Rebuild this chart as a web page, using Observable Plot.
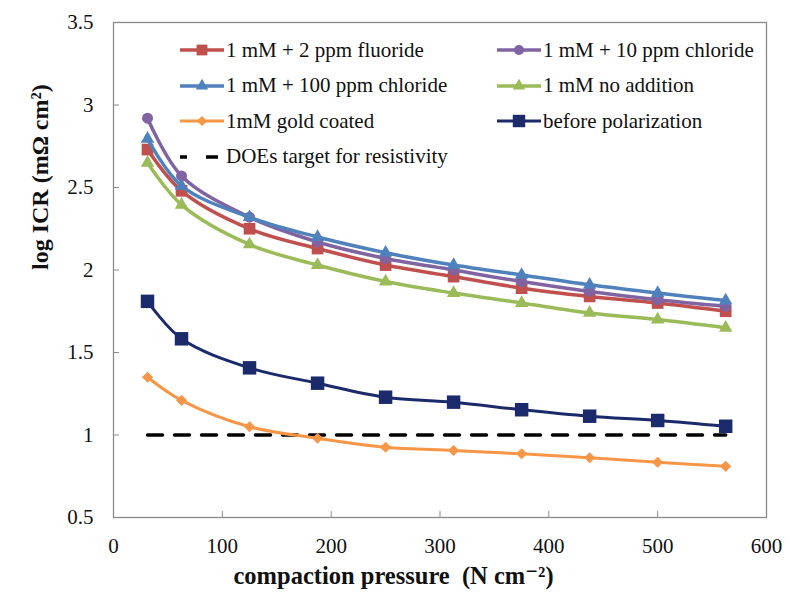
<!DOCTYPE html>
<html><head><meta charset="utf-8">
<script src="https://cdn.jsdelivr.net/npm/d3@7"></script>
<script src="https://cdn.jsdelivr.net/npm/@observablehq/plot@0.6"></script>
<style>
body{margin:0;background:#fff;}
#wrap{position:relative;width:790px;height:597px;font-family:"Liberation Serif","DejaVu Serif",serif;}
#wrap svg text{font-family:"Liberation Serif","DejaVu Serif",serif;}
.leg{position:absolute;display:flex;align-items:center;font-size:21px;color:#111;white-space:nowrap;height:26px;transform:translateY(-50%);font-family:"Liberation Serif","DejaVu Serif",serif;}
.leg svg{margin-right:2px;overflow:visible;}
</style></head><body><div id="wrap"></div>
<script>
// ---- data ----
const pressure = [31.25, 62.5, 125, 187.5, 250, 312.5, 375, 437.5, 500, 562.5];
const fluoride2ppm   = [2.73, 2.48, 2.25, 2.13, 2.03, 1.96, 1.89, 1.84, 1.80, 1.75];
const chloride10ppm  = [2.92, 2.57, 2.32, 2.17, 2.07, 2.00, 1.93, 1.87, 1.82, 1.78];
const chloride100ppm = [2.795, 2.51, 2.32, 2.20, 2.105, 2.03, 1.97, 1.91, 1.86, 1.815];
const noAddition     = [2.65, 2.395, 2.155, 2.03, 1.93, 1.86, 1.80, 1.74, 1.70, 1.65];
const goldCoated     = [1.35, 1.21, 1.05, 0.98, 0.926, 0.906, 0.886, 0.862, 0.835, 0.81];
const beforePolarization = [1.81, 1.583, 1.407, 1.314, 1.229, 1.199, 1.153, 1.114, 1.088, 1.053];
const doeTarget      = [1, 1, 1, 1, 1, 1, 1, 1, 1, 1];

const seriesNames = ["1 mM + 2 ppm fluoride", "1 mM + 10 ppm chloride", "1 mM + 100 ppm chloride",
  "1 mM no addition", "1mM gold coated", "before polarization", "DOEs target for resistivity"];
const xTicks = [0, 100, 200, 300, 400, 500, 600];
const yTicks = [0.5, 1, 1.5, 2, 2.5, 3, 3.5];
const xTitle = "compaction pressure  (N cm\u207B\u00B2)";
const yTitle = "log ICR (m\u03A9 cm\u00B2)";

// ---- styles ----
const font = '"Liberation Serif","DejaVu Serif",serif';
const series = [
  {name: seriesNames[3], values: noAddition, color: "#9BBB59", symbol: "triangle", r: 5, sw: 3.5},
  {name: seriesNames[0], values: fluoride2ppm, color: "#C0504D", symbol: "square", r: 6.6, sw: 3.5},
  {name: seriesNames[1], values: chloride10ppm, color: "#8064A2", symbol: "circle", r: 5.5, sw: 3.5},
  {name: seriesNames[2], values: chloride100ppm, color: "#4F81BD", symbol: "triangle", r: 5, sw: 3.5},
  {name: seriesNames[4], values: goldCoated, color: "#F79646", symbol: "diamond2", r: 5, sw: 3},
  {name: seriesNames[5], values: beforePolarization, color: "#1B2A6B", symbol: "square", r: 7.6, sw: 3}
];
const rowsOf = (vals) => pressure.map((p, i) => ({x: p, y: vals[i]}));

const marks = [
  Plot.frame({stroke: "#8a8a8a", strokeWidth: 1.3}),
  Plot.axisX(xTicks, {tickSize: -6, tickFormat: () => "", color: "#8a8a8a", label: null}),
  Plot.axisX(xTicks, {tickSize: 0, tickPadding: 21, fontSize: 21, fontFamily: font, color: "#111", tickFormat: d => String(d), label: null}),
  Plot.axisY(yTicks, {tickSize: -6, tickFormat: () => "", color: "#8a8a8a", label: null}),
  Plot.axisY(yTicks, {tickSize: 0, tickPadding: 20, fontSize: 21, fontFamily: font, color: "#111", tickFormat: d => String(d), label: null}),
  Plot.line(rowsOf(doeTarget), {x: "x", y: "y", stroke: "black", strokeWidth: 3.5, strokeDasharray: "15,12"})
];
for (const s of series) {
  const rows = rowsOf(s.values);
  marks.push(Plot.line(rows, {x: "x", y: "y", stroke: s.color, strokeWidth: s.sw, curve: "catmull-rom"}));
  marks.push(Plot.dot(rows, {x: "x", y: "y", symbol: s.symbol, r: s.r, fill: s.color, stroke: "none"}));
}
marks.push(Plot.text([xTitle], {text: d => d, frameAnchor: "bottom-left", textAnchor: "start", dy: 66, dx: 120, fontSize: 24.5, fontWeight: "bold", fontFamily: font, fill: "#111"}));
marks.push(Plot.text([yTitle], {text: d => d, frameAnchor: "left", dx: -73, rotate: -90, fontSize: 24, fontWeight: "bold", fontFamily: font, fill: "#111"}));

const chart = Plot.plot({
  width: 790, height: 597,
  marginLeft: 113, marginRight: 24, marginTop: 22, marginBottom: 80,
  style: {fontFamily: font, background: "white"},
  x: {domain: [0, 600]},
  y: {domain: [0.5, 3.5]},
  marks
});
const wrap = document.getElementById("wrap");
wrap.appendChild(chart);

// ---- legend (inside plot area) ----
const symMap = {square: d3.symbolSquare, circle: d3.symbolCircle, triangle: d3.symbolTriangle, diamond2: d3.symbolDiamond2};
const legendOrder = [
  {s: series[1], left: 180, top: 50},
  {s: series[2], left: 497, top: 50},
  {s: series[3], left: 180, top: 85.5},
  {s: series[0], left: 497, top: 85.5},
  {s: series[4], left: 180, top: 121},
  {s: series[5], left: 497, top: 121},
  {s: null, name: seriesNames[6], left: 180, top: 156.5}
];
for (const e of legendOrder) {
  const div = document.createElement("div");
  div.className = "leg";
  div.style.left = e.left + "px";
  div.style.top = e.top + "px";
  let svg;
  if (e.s) {
    const path = d3.symbol().type(symMap[e.s.symbol]).size(Math.PI * e.s.r * e.s.r * 0.85)();
    svg = `<svg width="44" height="20"><line x1="0" x2="44" y1="10" y2="10" stroke="${e.s.color}" stroke-width="${e.s.sw}"/><path d="${path}" transform="translate(22,10)" fill="${e.s.color}"/></svg>`;
  } else {
    svg = `<svg width="44" height="20"><line x1="0" x2="44" y1="10" y2="10" stroke="black" stroke-width="3.5" stroke-dasharray="7,19,12,99"/></svg>`;
  }
  div.innerHTML = svg + `<span>${e.s ? e.s.name : e.name}</span>`;
  wrap.appendChild(div);
}
</script>
</body></html>
